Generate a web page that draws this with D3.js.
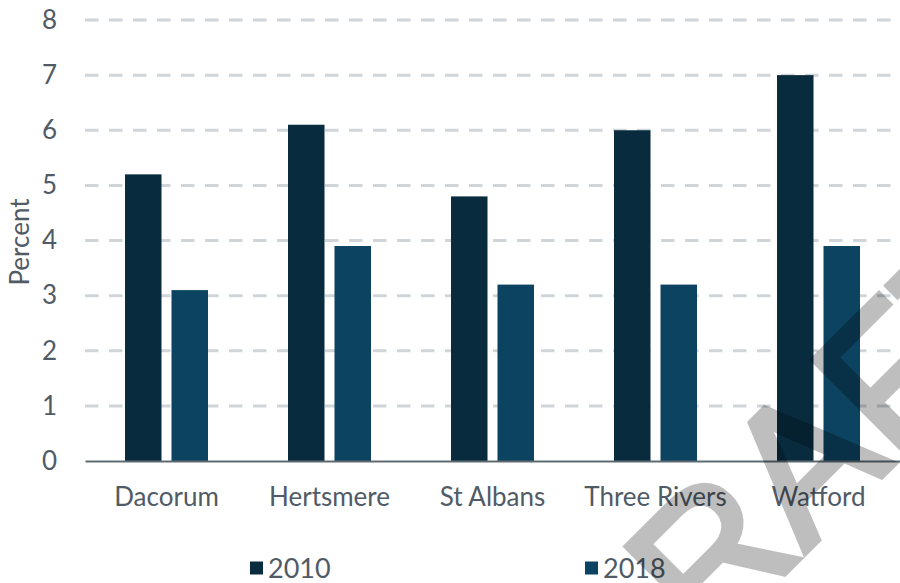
<!DOCTYPE html>
<html><head><meta charset="utf-8">
<script src="https://cdn.jsdelivr.net/npm/d3@7"></script>
<style>html,body{margin:0;padding:0;background:#fff;}svg{display:block;}</style>
</head><body>
<svg id="chart" width="900" height="583"></svg>
<script>
const categories = ["Dacorum", "Hertsmere", "St Albans", "Three Rivers", "Watford"];
const seriesNames = ["2010", "2018"];
const values2010 = [5.2, 6.1, 4.8, 6.0, 7.0];
const values2018 = [3.1, 3.9, 3.2, 3.2, 3.9];
const yTicks = [0, 1, 2, 3, 4, 5, 6, 7, 8];
const colors = ["#082b3e", "#0b4360"];
const yTitle = "Percent";
const watermark = "DRAFT";

const svg = d3.select("#chart");
const plotLeft = 85, plotRight = 900, plotTop = 20, plotBottom = 461;
const font = "Lato, 'Liberation Sans', sans-serif";
const textColor = "#505b66";

const y = d3.scaleLinear().domain([0, 8]).range([plotBottom, plotTop]);
const x0 = d3.scaleBand().domain(categories).range([plotLeft, plotRight]).padding(0);
const groupW = 83;
const x1 = d3.scaleBand().domain(seriesNames).range([0, groupW]).paddingInner(0.215).paddingOuter(0);

// gridlines
svg.append("g").selectAll("line").data(yTicks.filter(d => d > 0)).join("line")
  .attr("x1", plotLeft).attr("x2", plotRight)
  .attr("y1", d => y(d)).attr("y2", d => y(d))
  .attr("stroke", "#d0d5d9").attr("stroke-width", 3)
  .attr("stroke-dasharray", "13.5,10.5");

// y axis labels
const yAxis = d3.axisLeft(y).tickValues(yTicks).tickSize(0).tickPadding(0).tickFormat(d3.format("d"));
const gy = svg.append("g").attr("transform", `translate(${plotLeft - 28},0)`).call(yAxis);
gy.select(".domain").remove();
gy.selectAll("text").attr("font-family", font).attr("font-size", 26).attr("fill", textColor);

// bars
const data = categories.map((c, i) => ({cat: c, vals: [
  {s: seriesNames[0], v: values2010[i]}, {s: seriesNames[1], v: values2018[i]}]}));
const groups = svg.append("g").selectAll("g").data(data).join("g")
  .attr("transform", d => `translate(${x0(d.cat) + (x0.bandwidth() - groupW) / 2},0)`);
groups.selectAll("rect").data(d => d.vals).join("rect")
  .attr("x", d => x1(d.s)).attr("width", x1.bandwidth())
  .attr("y", d => y(d.v)).attr("height", d => y(0) - y(d.v))
  .attr("fill", (d, i) => colors[i]);

// x axis
const xAxis = d3.axisBottom(x0).tickSize(0).tickPadding(0);
const gx = svg.append("g").attr("transform", `translate(0,${plotBottom})`).call(xAxis);
gx.select(".domain").attr("stroke", "#5f6b73").attr("stroke-width", 2);
gx.selectAll("text").attr("font-family", font).attr("font-size", 26).attr("fill", textColor)
  .attr("dy", "1.2em").attr("y", 14);

// y title
svg.append("text").attr("transform", "translate(29,242) rotate(-90)")
  .attr("text-anchor", "middle").attr("font-family", font).attr("font-size", 26)
  .attr("fill", textColor).text(yTitle);

// legend
const legX = [250, 585];
const leg = svg.append("g").selectAll("g").data(seriesNames).join("g")
  .attr("transform", (d, i) => `translate(${legX[i]},568)`);
leg.append("rect").attr("x", 0).attr("y", -6.5).attr("width", 13).attr("height", 13)
  .attr("fill", (d, i) => colors[i]);
leg.append("text").attr("x", 18).attr("y", 10).attr("font-family", font).attr("font-size", 27)
  .attr("fill", textColor).text(d => d);

// watermark
svg.append("g").attr("opacity", 0.25)
  .append("text").attr("transform", "translate(611,747) rotate(-45)")
  .attr("font-family", "'Liberation Sans', Arial, sans-serif").attr("font-size", 190)
  .attr("fill", "#000").attr("stroke", "#000").attr("stroke-width", 6)
  .attr("stroke-linejoin", "miter").text(watermark);
</script>
</body></html>
